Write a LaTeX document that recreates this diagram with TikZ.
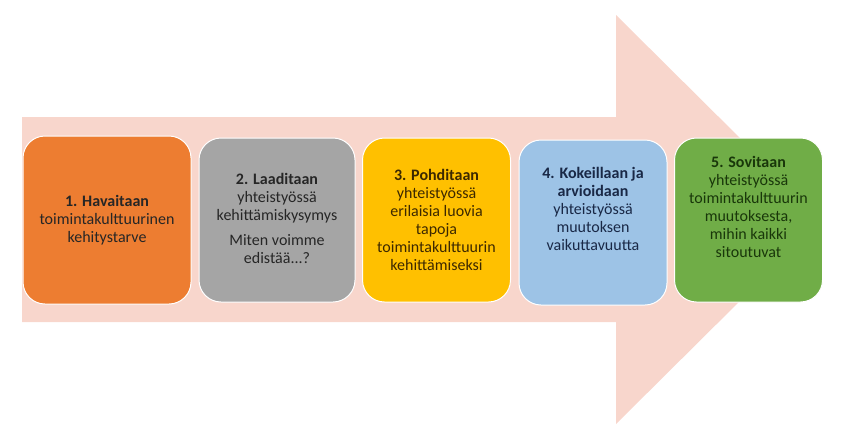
\documentclass[tikz,border=0pt]{standalone}
\usepackage{fontspec}
\setmainfont{Carlito}
\usepackage{tikz}
\definecolor{arrowpink}{RGB}{248,214,204}
\definecolor{orange1}{RGB}{237,125,49}
\definecolor{grey2}{RGB}{165,165,165}
\definecolor{yellow3}{RGB}{255,192,0}
\definecolor{blue4}{RGB}{157,195,230}
\definecolor{green5}{RGB}{112,173,71}

\begin{document}
\begin{tikzpicture}[x=1pt, y=-1pt,
    stage/.style = {draw=white, line width=1pt, rounded corners=22pt, minimum width=148pt, minimum height=164pt},
    txt/.style = {align=center, font=\fontsize{16}{18}\selectfont}]
	\useasboundingbox (0,0) rectangle (858,445);
	% big arrow behind the stages
	\fill[arrowpink] (22,117) -- (616,117) -- (616,15) -- (822,219.5) -- (616,424) -- (616,322) -- (22,322) -- cycle;
	\node[stage, fill=orange1, minimum width=168pt, minimum height=168pt] (b1) at (107,220){};
	\node[stage, fill=grey2, minimum width=156pt] (b2) at (277,220){};
	\node[stage, fill=yellow3] (b3) at (436.5,220){};
	\node[stage, fill=blue4, minimum height=165pt] (b4) at (593,222.5){};
	\node[stage, fill=green5] (b5) at (748.5,220){};
	\node[txt, text=black!85] (t1) at (b1.center){\textbf{1. Havaitaan}\\toimintakulttuurinen\\kehitystarve};
	\node[txt, text=black!85] (t2) at ([yshift=2pt]b2.center){\textbf{2. Laaditaan}\\yhteistyössä\\kehittämiskysymys\\[7pt]Miten voimme\\edistää...?};
	\node[txt, text={rgb,255:red,60;green,40;blue,0}] (t3) at (b3.center){\textbf{3. Pohditaan}\\yhteistyössä\\erilaisia luovia\\tapoja\\toimintakulttuurin\\kehittämiseksi};
	\node[txt, text={rgb,255:red,25;green,40;blue,70}] (t4) at ([yshift=14pt]b4.center){\textbf{4. Kokeillaan ja}\\\textbf{arvioidaan}\\yhteistyössä\\muutoksen\\vaikuttavuutta};
	\node[txt, text={rgb,255:red,25;green,55;blue,10}] (t5) at ([yshift=13pt]b5.center){\textbf{5. Sovitaan}\\yhteistyössä\\toimintakulttuurin\\muutoksesta,\\mihin kaikki\\sitoutuvat};
\end{tikzpicture}
\end{document}
